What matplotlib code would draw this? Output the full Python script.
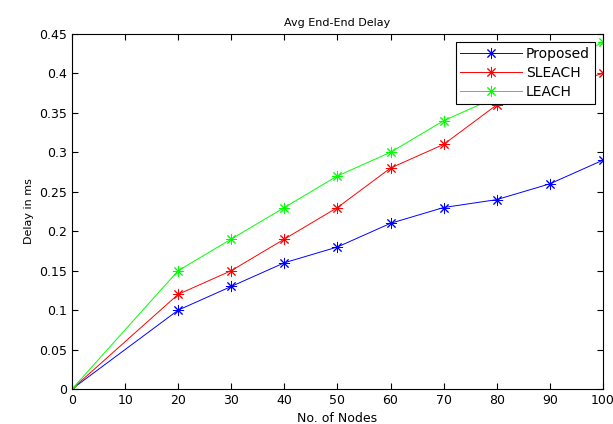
import matplotlib.pyplot as plt

# ------------ data ------------
nodes = [0, 20, 30, 40, 50, 60, 70, 80, 90, 100]
proposed = [0, 0.10, 0.13, 0.16, 0.18, 0.21, 0.23, 0.24, 0.26, 0.29]
sleach = [0, 0.12, 0.15, 0.19, 0.23, 0.28, 0.31, 0.36, 0.38, 0.40]
leach = [0, 0.15, 0.19, 0.23, 0.27, 0.30, 0.34, 0.37, 0.40, 0.44]

# ------------ plotting ------------
fig = plt.figure(figsize=(6.13, 4.24), dpi=100)
ax = fig.add_axes([0.1175, 0.0825, 0.866, 0.8375])

star = (8, 2, 0)
style = dict(marker=star, markersize=8, markeredgewidth=0.7, linewidth=0.7)
ax.plot(nodes, proposed, color='blue', label='Proposed', **style)
ax.plot(nodes, sleach, color='red', label='SLEACH', **style)
ax.plot(nodes, leach, color='#00ff00', label='LEACH', **style)

ax.set_xlim(0, 100)
ax.set_ylim(0, 0.45)
ax.set_xticks(range(0, 101, 10))
ax.set_yticks([i * 0.05 for i in range(10)])
ax.set_yticklabels(['0', '0.05', '0.1', '0.15', '0.2', '0.25', '0.3', '0.35', '0.4', '0.45'])
ax.tick_params(direction='in', labelsize=9, top=True, right=True, length=4)

ax.set_title('Avg End-End Delay', fontsize=8)
ax.set_xlabel('No. of Nodes', fontsize=9)
ax.set_ylabel('Delay in ms', fontsize=8)

leg = ax.legend(loc='upper right', fontsize=10, fancybox=False, framealpha=1,
                edgecolor='black', borderaxespad=0.6, handlelength=4.4,
                labelspacing=0.35, borderpad=0.35, handletextpad=0.3)
leg.get_frame().set_linewidth(0.8)

fig.savefig('out.png', dpi=100)
